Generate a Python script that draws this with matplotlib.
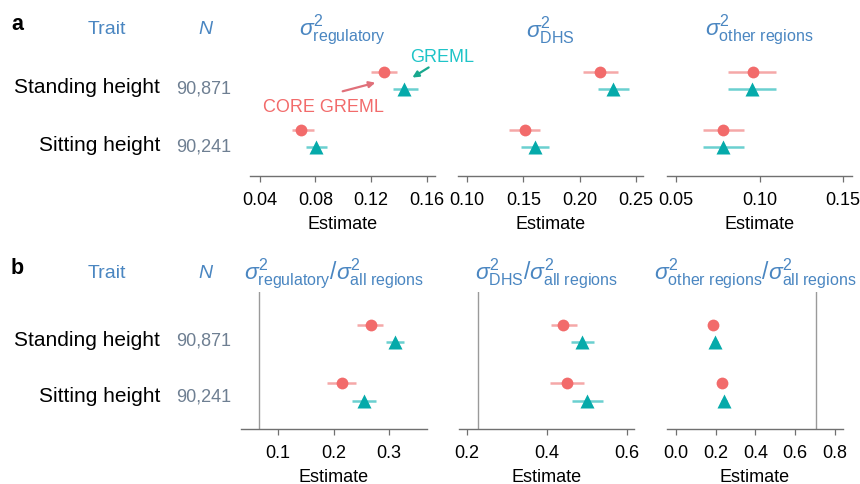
import matplotlib
matplotlib.use('Agg')
import matplotlib.pyplot as plt
from matplotlib.ticker import FixedLocator, FormatStrFormatter

plt.rcParams['font.family'] = ['Liberation Sans', 'DejaVu Sans']
plt.rcParams['mathtext.fontset'] = 'custom'
plt.rcParams['mathtext.rm'] = 'Liberation Sans'
plt.rcParams['mathtext.it'] = 'Liberation Sans:italic'
plt.rcParams['mathtext.bf'] = 'Liberation Sans:bold'

W, H = 860, 485

# ---------------- data ----------------
traits = ['Standing height', 'Sitting height']
n_samples = ['90,871', '90,241']

# panel a: variance estimates (CORE GREML, GREML)
a_titles = [r'$\sigma^2_{\mathrm{regulatory}}$', r'$\sigma^2_{\mathrm{DHS}}$',
            r'$\sigma^2_{\mathrm{other\ regions}}$']
a_core = [[0.1295, 0.0698], [0.218, 0.151], [0.0959, 0.078]]
a_core_lo = [[0.120, 0.063], [0.203, 0.137], [0.081, 0.066]]
a_core_hi = [[0.139, 0.079], [0.234, 0.165], [0.110, 0.091]]
a_greml = [[0.1437, 0.0805], [0.229, 0.160], [0.0955, 0.078]]
a_greml_lo = [[0.136, 0.073], [0.216, 0.148], [0.081, 0.066]]
a_greml_hi = [[0.154, 0.088], [0.244, 0.173], [0.110, 0.091]]
a_ticks = [[0.04, 0.08, 0.12, 0.16], [0.10, 0.15, 0.20, 0.25], [0.05, 0.10, 0.15]]
a_xlim = [(0.033, 0.166), (0.092, 0.256), (0.0446, 0.1554)]

# panel b: proportions (CORE GREML, GREML)
b_titles = [r'$\sigma^2_{\mathrm{regulatory}}/\sigma^2_{\mathrm{all\ regions}}$',
            r'$\sigma^2_{\mathrm{DHS}}/\sigma^2_{\mathrm{all\ regions}}$',
            r'$\sigma^2_{\mathrm{other\ regions}}/\sigma^2_{\mathrm{all\ regions}}$']
b_core = [[0.267, 0.215], [0.440, 0.450], [0.185, 0.230]]
b_core_lo = [[0.243, 0.189], [0.410, 0.408], [0.170, 0.215]]
b_core_hi = [[0.289, 0.241], [0.475, 0.493], [0.200, 0.245]]
b_greml = [[0.310, 0.255], [0.488, 0.500], [0.195, 0.240]]
b_greml_lo = [[0.295, 0.234], [0.460, 0.463], [0.180, 0.225]]
b_greml_hi = [[0.326, 0.277], [0.518, 0.540], [0.210, 0.255]]
b_ref = [0.066, 0.228, 0.705]
b_ticks = [[0.1, 0.2, 0.3], [0.2, 0.4, 0.6], [0.0, 0.2, 0.4, 0.6, 0.8]]
b_fmt = ['%.1f', '%.1f', '%.1f']
b_xlim = [(0.0336, 0.368), (0.18, 0.6175), (-0.045, 0.84)]
a_fmt = ['%.2f', '%.2f', '%.2f']

# ---------------- style ----------------
C_CORE = '#F26B6B'
C_CORE_ERR = '#F5A8A8'
C_GREML = '#05AAAA'
C_GREML_ERR = '#6BD0D0'
C_HEAD = '#4A86C1'
C_NUM = '#6E7F92'
C_AXIS = '#707070'
OFF = 0.147

fig = plt.figure(figsize=(W / 100, H / 100), dpi=100)


def fx(px):
    return px / W


def fy(py):
    return 1 - py / H


def make_ax(x0, x1, ytop, ybot):
    return fig.add_axes([fx(x0), fy(ybot), fx(x1) - fx(x0), (ybot - ytop) / H])


def style_ax(ax, ticks, fmt, xlim, ylim):
    ax.set_xlim(*xlim)
    ax.set_ylim(*ylim)
    for s in ['top', 'right', 'left']:
        ax.spines[s].set_visible(False)
    ax.spines['bottom'].set_color(C_AXIS)
    ax.spines['bottom'].set_linewidth(1.0)
    ax.set_yticks([])
    ax.xaxis.set_major_locator(FixedLocator(ticks))
    ax.xaxis.set_major_formatter(FormatStrFormatter(fmt))
    ax.tick_params(axis='x', colors=C_AXIS, length=4, width=0.9, pad=7,
                   labelsize=13, labelcolor='black')
    ax.set_xlabel('Estimate', fontsize=13, labelpad=5)
    ax.patch.set_alpha(0)


def draw_points(ax, core, clo, chi, gre, glo, ghi):
    ys = list(range(len(traits)))
    yc = [y - OFF for y in ys]
    yg = [y + OFF for y in ys]
    ax.hlines(yc, clo, chi, color=C_CORE_ERR, lw=1.8, zorder=2)
    ax.hlines(yg, glo, ghi, color=C_GREML_ERR, lw=1.8, zorder=2)
    ax.plot(core, yc, 'o', color=C_CORE, ms=8.5, mec='none', zorder=3)
    ax.plot(gre, yg, '^', color=C_GREML, ms=10, mec='none', zorder=3)


# panel a layout
a_x = [(250, 435), (458, 643), (667, 852)]
a_top, a_bot = 55, 177
a_ylim = (1.647, -0.457)
for i in range(3):
    ax = make_ax(a_x[i][0], a_x[i][1], a_top, a_bot)
    style_ax(ax, a_ticks[i], a_fmt[i], a_xlim[i], a_ylim)
    draw_points(ax, a_core[i], a_core_lo[i], a_core_hi[i],
                a_greml[i], a_greml_lo[i], a_greml_hi[i])
    fig.text(fx(sum(a_x[i]) / 2), fy(30), a_titles[i], ha='center', va='center',
             fontsize=16.5, color=C_HEAD)

# panel b layout
b_x = [(241, 427), (459, 634), (667, 843)]
b_top, b_bot = 293, 430
b_ylim = (1.632, -0.71)
for i in range(3):
    ax = make_ax(b_x[i][0], b_x[i][1], b_top, b_bot)
    style_ax(ax, b_ticks[i], b_fmt[i], b_xlim[i], b_ylim)
    ax.axvline(b_ref[i], color='#9A9A9A', lw=1.0, zorder=1)
    draw_points(ax, b_core[i], b_core_lo[i], b_core_hi[i],
                b_greml[i], b_greml_lo[i], b_greml_hi[i])
    fig.text(fx(sum(b_x[i]) / 2), fy(274), b_titles[i], ha='center', va='center',
             fontsize=16.5, color=C_HEAD)

# row labels and headers
for label, head_y, baselines in [('a', 25, (93, 151)), ('b', 268, (346, 402))]:
    fig.text(fx(11), fy(head_y), label, fontsize=15.5, fontweight='bold',
             ha='left', va='center')
    fig.text(fx(107), fy(head_y + 5), 'Trait', fontsize=14, color=C_HEAD,
             ha='center', va='center')
    fig.text(fx(205), fy(head_y + 5), 'N', fontsize=14, color=C_HEAD,
             style='italic', ha='center', va='center')
    for t, n, bl in zip(traits, n_samples, baselines):
        fig.text(fx(160), fy(bl), t, fontsize=15, ha='right', va='baseline')
        fig.text(fx(176), fy(bl), n, fontsize=13, color=C_NUM, ha='left',
                 va='baseline')

# annotations in panel a
fig.text(fx(410), fy(58), 'GREML', fontsize=13, color='#1FC4C8', ha='left',
         va='center')
fig.text(fx(263), fy(108), 'CORE GREML', fontsize=13, color='#F26B6B',
         ha='left', va='center')
fig.add_artist(matplotlib.patches.FancyArrowPatch(
    (fx(431), fy(67)), (fx(410), fy(80)), transform=fig.transFigure,
    arrowstyle='-|>', mutation_scale=9, color='#18A88E', lw=1.6))
fig.add_artist(matplotlib.patches.FancyArrowPatch(
    (fx(340), fy(93)), (fx(378), fy(83)), transform=fig.transFigure,
    arrowstyle='-|>', mutation_scale=9, color='#E0707A', lw=1.6))

fig.savefig('out.png', dpi=100)
